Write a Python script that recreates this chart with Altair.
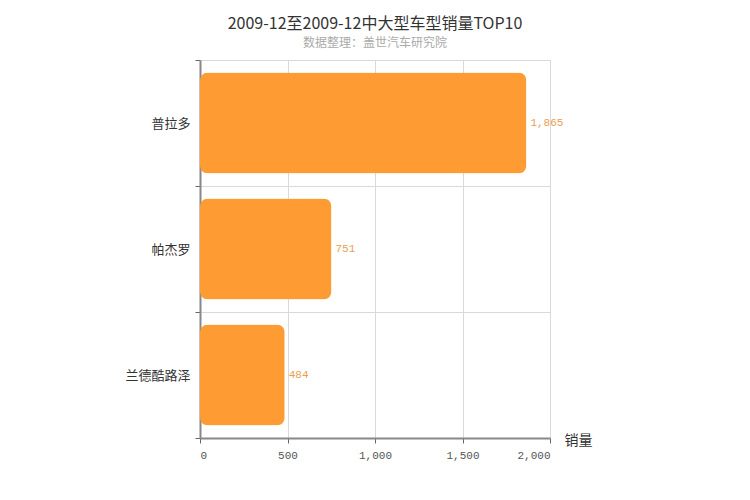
import altair as alt
import pandas as pd

models = ["普拉多", "帕杰罗", "兰德酷路泽"]
sales = [1865, 751, 484]
x_ticks = [0, 500, 1000, 1500, 2000]

df = pd.DataFrame({"model": models, "sales": sales})

CJK = "Noto Sans CJK SC"
NUM = "Liberation Mono"

base = alt.Chart(df).encode(
    y=alt.Y(
        "model:N",
        sort=models,
        title=None,
        scale=alt.Scale(paddingInner=0, paddingOuter=0),
        axis=alt.Axis(
            tickBand="extent",
            grid=True,
            gridColor="#d9d9d9",
            domainColor="#888888",
            domainWidth=2,
            tickColor="#666666",
            tickSize=5,
            labelFont=CJK,
            labelFontSize=13,
            labelColor="#333333",
            labelPadding=5,
        ),
    ),
)

bars = base.mark_bar(
    color="#FF9B33", cornerRadius=8, height=alt.RelativeBandSize(0.8)
).encode(
    x=alt.X(
        "sales:Q",
        scale=alt.Scale(domain=[0, 2000]),
        title="销量",
        axis=alt.Axis(
            values=x_ticks,
            format=",.0f",
            grid=True,
            gridColor="#d9d9d9",
            domainColor="#888888",
            domainWidth=2,
            tickColor="#666666",
            tickSize=5,
            labelFont=NUM,
            labelFontSize=11,
            labelColor="#555555",
            labelPadding=6,
            titleFont=CJK,
            titleFontSize=14,
            titleFontWeight="normal",
            titleColor="#333333",
            titleAnchor="end",
            titleAlign="left",
            titleBaseline="middle",
            titleX=364,
            titleY=2,
        ),
    ),
)

labels = base.mark_text(
    align="left", baseline="middle", dx=4, font=NUM, fontSize=11, color="#E8A050"
).encode(
    x="sales:Q",
    text=alt.Text("sales:Q", format=",.0f"),
)

chart = (
    alt.layer(bars, labels)
    .properties(
        width=350,
        height=378,
        autosize=alt.AutoSizeParams(type="none"),
        padding={"left": 192, "top": 52, "right": 184, "bottom": 54},
        title=alt.TitleParams(
            text="2009-12至2009-12中大型车型销量TOP10",
            subtitle="数据整理：盖世汽车研究院",
            anchor="middle",
            frame="group",
            font=CJK,
            fontSize=16,
            fontWeight="normal",
            color="#333333",
            subtitleFont=CJK,
            subtitleFontSize=12,
            subtitleColor="#aaaaaa",
            subtitlePadding=6,
            offset=5,
        ),
    )
    .configure_view(stroke="#d9d9d9")
)

chart.save("out.html", embed_options={"renderer": "svg", "actions": False})
